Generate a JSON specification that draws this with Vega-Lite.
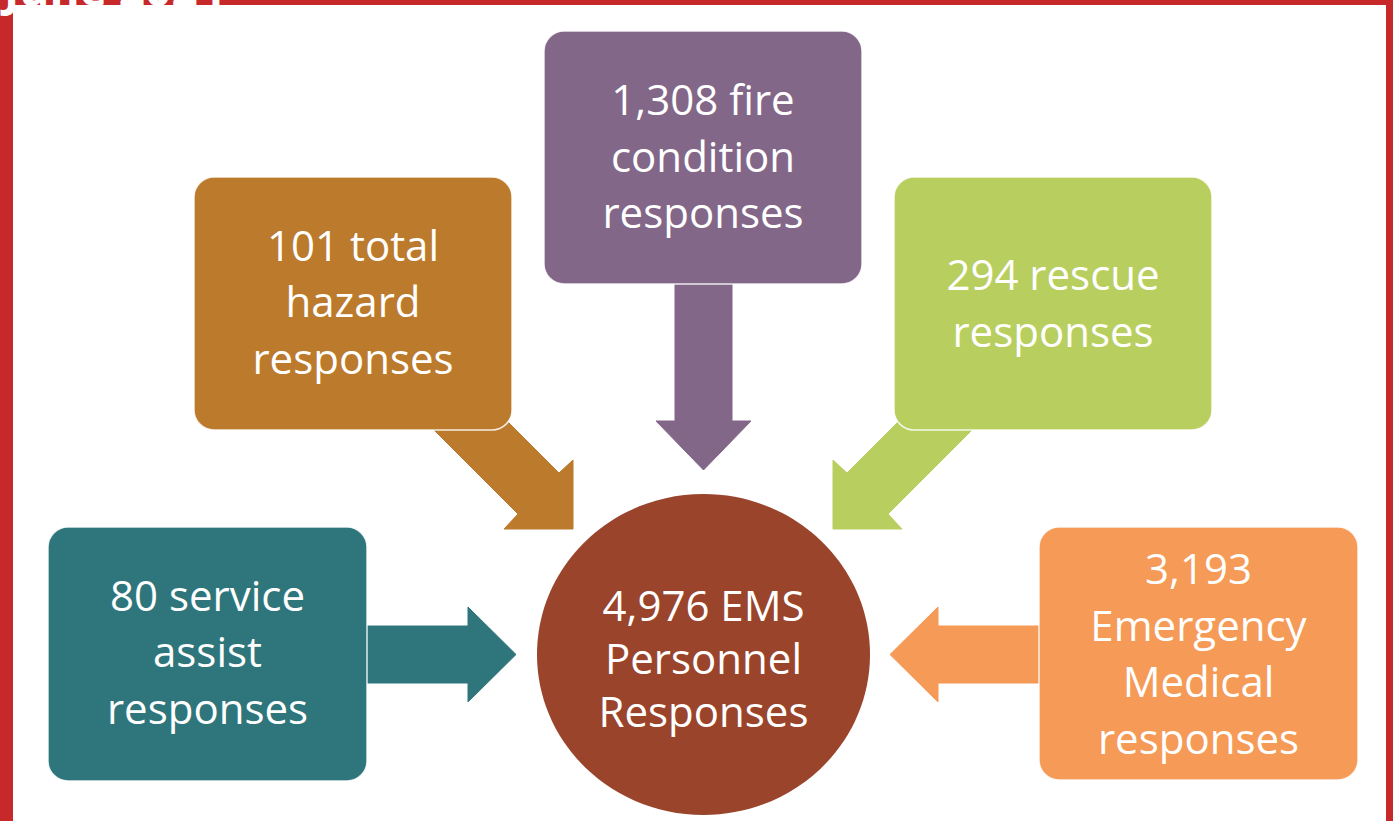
{
  "$schema": "https://vega.github.io/schema/vega-lite/v6.json",
  "width": 1393,
  "height": 821,
  "padding": 0,
  "autosize": {"type": "none"},
  "background": "#ffffff",
  "config": {"view": {"stroke": null}},
  "datasets": {
    "frame": [
      {"part": "border", "x0": 0, "x1": 1393, "y0": 0, "y1": 821},
      {"part": "inner", "x0": 13, "x1": 1386, "y0": 5, "y1": 821}
    ],
    "arrows": [
      {"part": "hazard", "i": 0, "x": 412, "y": 408},
      {"part": "hazard", "i": 1, "x": 518, "y": 514},
      {"part": "hazard", "i": 2, "x": 504, "y": 529},
      {"part": "hazard", "i": 3, "x": 573, "y": 529},
      {"part": "hazard", "i": 4, "x": 573, "y": 460},
      {"part": "hazard", "i": 5, "x": 559, "y": 473},
      {"part": "hazard", "i": 6, "x": 453, "y": 367},
      {"part": "hazard", "i": 7, "x": 412, "y": 408},
      {"part": "rescue", "i": 0, "x": 994, "y": 408},
      {"part": "rescue", "i": 1, "x": 888, "y": 514},
      {"part": "rescue", "i": 2, "x": 902, "y": 529},
      {"part": "rescue", "i": 3, "x": 833, "y": 529},
      {"part": "rescue", "i": 4, "x": 833, "y": 460},
      {"part": "rescue", "i": 5, "x": 847, "y": 473},
      {"part": "rescue", "i": 6, "x": 953, "y": 367},
      {"part": "rescue", "i": 7, "x": 994, "y": 408},
      {"part": "fire", "i": 0, "x": 675, "y": 250},
      {"part": "fire", "i": 1, "x": 675, "y": 421},
      {"part": "fire", "i": 2, "x": 656, "y": 421},
      {"part": "fire", "i": 3, "x": 703.5, "y": 470},
      {"part": "fire", "i": 4, "x": 751, "y": 421},
      {"part": "fire", "i": 5, "x": 732, "y": 421},
      {"part": "fire", "i": 6, "x": 732, "y": 250},
      {"part": "fire", "i": 7, "x": 675, "y": 250},
      {"part": "service", "i": 0, "x": 330, "y": 626},
      {"part": "service", "i": 1, "x": 468, "y": 626},
      {"part": "service", "i": 2, "x": 468, "y": 607},
      {"part": "service", "i": 3, "x": 516, "y": 654.5},
      {"part": "service", "i": 4, "x": 468, "y": 702},
      {"part": "service", "i": 5, "x": 468, "y": 683},
      {"part": "service", "i": 6, "x": 330, "y": 683},
      {"part": "service", "i": 7, "x": 330, "y": 626},
      {"part": "ems", "i": 0, "x": 1080, "y": 626},
      {"part": "ems", "i": 1, "x": 938, "y": 626},
      {"part": "ems", "i": 2, "x": 938, "y": 607},
      {"part": "ems", "i": 3, "x": 890, "y": 654.5},
      {"part": "ems", "i": 4, "x": 938, "y": 702},
      {"part": "ems", "i": 5, "x": 938, "y": 683},
      {"part": "ems", "i": 6, "x": 1080, "y": 683},
      {"part": "ems", "i": 7, "x": 1080, "y": 626}
    ],
    "boxes": [
      {"part": "hazard", "x0": 194, "x1": 512, "y0": 177, "y1": 430, "tx": 353, "ty": 247.5, "label": "101 total\nhazard\nresponses"},
      {"part": "fire", "x0": 544, "x1": 862, "y0": 31, "y1": 284, "tx": 703, "ty": 102, "label": "1,308 fire\ncondition\nresponses"},
      {"part": "rescue", "x0": 894, "x1": 1212, "y0": 177, "y1": 430, "tx": 1053, "ty": 277, "label": "294 rescue\nresponses"},
      {"part": "service", "x0": 48, "x1": 367, "y0": 527, "y1": 781, "tx": 207.5, "ty": 597.5, "label": "80 service\nassist\nresponses"},
      {"part": "ems", "x0": 1039, "x1": 1358, "y0": 527, "y1": 780, "tx": 1198.5, "ty": 571, "label": "3,193\nEmergency\nMedical\nresponses"}
    ],
    "hub": [
      {"part": "total", "x": 703.5, "y": 654.5, "tx": 703.5, "ty": 608, "label": "4,976 EMS\nPersonnel\nResponses"}
    ],
    "header": [
      {"x": 4, "y": 6, "label": "June 2024"}
    ]
  },
  "layer": [
    {
      "data": {"name": "frame"},
      "mark": {"type": "rect"},
      "encoding": {
        "x": {"field": "x0", "type": "quantitative", "scale": {"domain": [0, 1393], "nice": false, "zero": false}, "axis": null},
        "x2": {"field": "x1"},
        "y": {"field": "y0", "type": "quantitative", "scale": {"domain": [0, 821], "nice": false, "zero": false, "reverse": true}, "axis": null},
        "y2": {"field": "y1"},
        "fill": {"field": "part", "type": "nominal", "legend": null,
          "scale": {"domain": ["border", "inner", "hazard", "fire", "rescue", "service", "ems", "total"],
                    "range": ["#C7282A", "#ffffff", "#BC7A2C", "#836789", "#B8CF5F", "#2F767C", "#F59A57", "#9A442C"]}}
      }
    },
    {
      "data": {"name": "header"},
      "mark": {"type": "text", "align": "left", "baseline": "alphabetic", "font": "Open Sans", "fontWeight": "bold", "fontSize": 46, "color": "#ffffff"},
      "encoding": {
        "x": {"field": "x", "type": "quantitative"},
        "y": {"field": "y", "type": "quantitative"},
        "text": {"field": "label", "type": "nominal"}
      }
    },
    {
      "data": {"name": "arrows"},
      "mark": {"type": "line", "strokeWidth": 1, "interpolate": "linear"},
      "encoding": {
        "x": {"field": "x", "type": "quantitative"},
        "y": {"field": "y", "type": "quantitative"},
        "order": {"field": "i", "type": "quantitative"},
        "detail": {"field": "part", "type": "nominal"},
        "fill": {"field": "part", "type": "nominal", "legend": null},
        "stroke": {"field": "part", "type": "nominal", "legend": null,
          "scale": {"domain": ["border", "inner", "hazard", "fire", "rescue", "service", "ems", "total"],
                    "range": ["#C7282A", "#ffffff", "#BC7A2C", "#836789", "#B8CF5F", "#2F767C", "#F59A57", "#9A442C"]}}
      }
    },
    {
      "data": {"name": "boxes"},
      "mark": {"type": "rect", "cornerRadius": 20, "stroke": "#ffffff", "strokeWidth": 1.5, "strokeOpacity": 0.85},
      "encoding": {
        "x": {"field": "x0", "type": "quantitative"},
        "x2": {"field": "x1"},
        "y": {"field": "y0", "type": "quantitative"},
        "y2": {"field": "y1"},
        "fill": {"field": "part", "type": "nominal", "legend": null}
      }
    },
    {
      "data": {"name": "hub"},
      "mark": {"type": "point", "filled": true, "opacity": 1, "size": 110889, "shape": "M-1,0A1,0.964,0,1,0,1,0A1,0.964,0,1,0,-1,0Z"},
      "encoding": {
        "x": {"field": "x", "type": "quantitative"},
        "y": {"field": "y", "type": "quantitative"},
        "fill": {"field": "part", "type": "nominal", "legend": null}
      }
    },
    {
      "data": {"name": "boxes"},
      "mark": {"type": "text", "align": "center", "baseline": "middle", "lineBreak": "\n", "lineHeight": 56.5, "font": "Open Sans", "fontSize": 42, "color": "#ffffff"},
      "encoding": {
        "x": {"field": "tx", "type": "quantitative"},
        "y": {"field": "ty", "type": "quantitative"},
        "text": {"field": "label", "type": "nominal"}
      }
    },
    {
      "data": {"name": "hub"},
      "mark": {"type": "text", "align": "center", "baseline": "middle", "lineBreak": "\n", "lineHeight": 53, "font": "Open Sans", "fontSize": 42, "color": "#ffffff"},
      "encoding": {
        "x": {"field": "tx", "type": "quantitative"},
        "y": {"field": "ty", "type": "quantitative"},
        "text": {"field": "label", "type": "nominal"}
      }
    }
  ]
}
